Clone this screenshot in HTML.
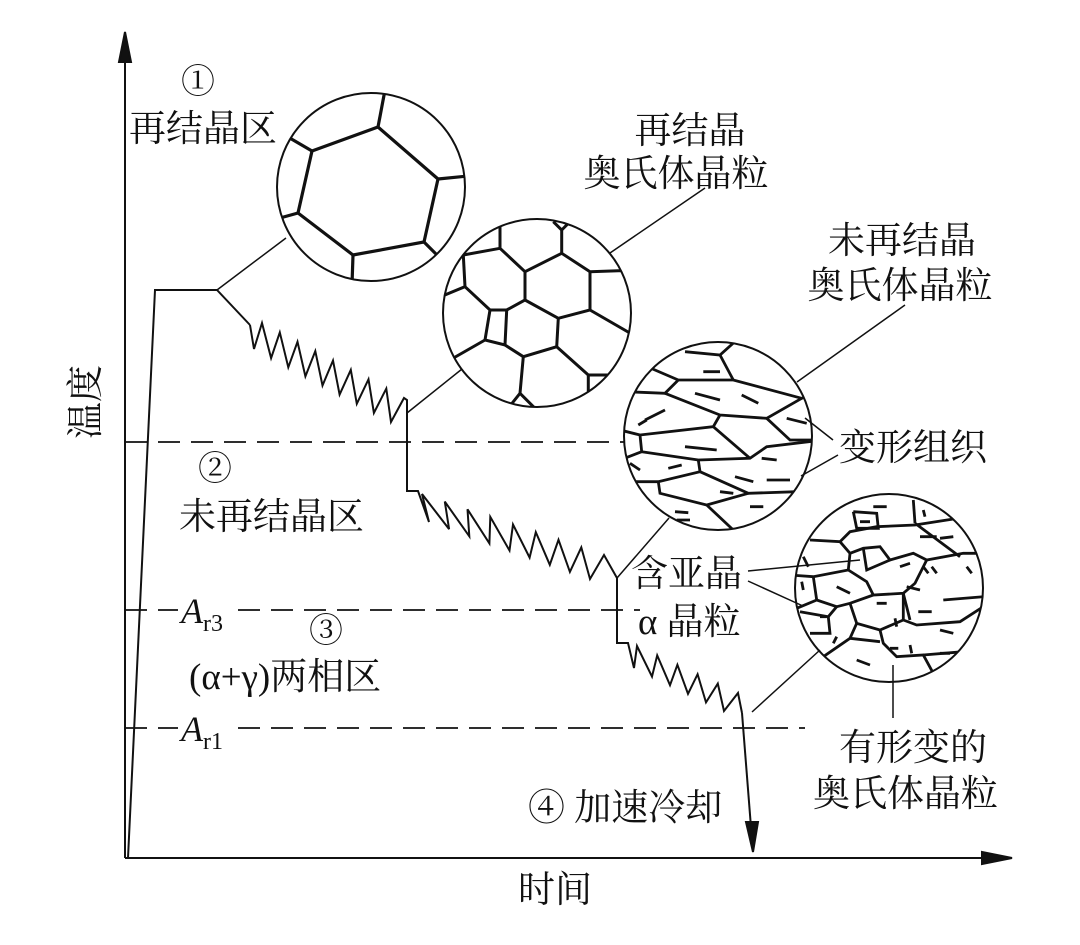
<!DOCTYPE html>
<html><head><meta charset="utf-8"><style>
html,body{margin:0;padding:0;background:#fff;}
svg{display:block;}
text{font-family:"Liberation Serif","Noto Serif CJK SC",serif;fill:#111;}
</style></head><body>
<svg id="s" width="1080" height="945" viewBox="0 0 1080 945" xmlns="http://www.w3.org/2000/svg">
<defs>
<clipPath id="c1"><circle cx="371" cy="187" r="94"/></clipPath>
<clipPath id="c2"><circle cx="537" cy="313" r="94"/></clipPath>
<clipPath id="c3"><circle cx="718" cy="436" r="94"/></clipPath>
<clipPath id="c4"><circle cx="889" cy="588" r="94"/></clipPath>
</defs>
<g stroke="#111" fill="none" stroke-width="2">
<line x1="125" y1="40" x2="125" y2="858"/>
<polygon points="125,32 119,62 131,62" fill="#111"/>
<line x1="125" y1="858" x2="1000" y2="858"/>
<polygon points="1012,858 982,852 982,864" fill="#111"/>
<g stroke-dasharray="22,11" stroke-width="1.8">
<line x1="125" y1="442" x2="624" y2="442"/>
<line x1="125" y1="610" x2="178" y2="610"/>
<line x1="238" y1="610" x2="640" y2="610"/>
<line x1="125" y1="728" x2="178" y2="728"/>
<line x1="238" y1="728" x2="805" y2="728"/>
</g>
<polyline points="128,858 155,290 217,290 250,325"/>
<line x1="217" y1="290" x2="286" y2="238" stroke-width="1.5"/>
<path id="zz" stroke-width="2"/>
<line x1="742" y1="713" x2="752" y2="840"/>
<polygon points="753,852 746,822 758,822" fill="#111"/>
<g stroke-width="1.5">
<line x1="407" y1="413" x2="462" y2="369"/>
<line x1="610" y1="253" x2="705" y2="188"/>
<line x1="797" y1="382" x2="905" y2="305"/>
<line x1="805" y1="418" x2="833" y2="440"/>
<line x1="801" y1="476" x2="838" y2="455"/>
<line x1="669" y1="518" x2="617" y2="578"/>
<line x1="748" y1="571" x2="860" y2="560"/>
<line x1="748" y1="581" x2="803" y2="606"/>
<line x1="820" y1="650" x2="752" y2="712"/>
<line x1="893" y1="665" x2="893" y2="718"/>
</g>
<circle cx="371" cy="187" r="94"/>
<g clip-path="url(#c1)" stroke-width="3.2">
<polygon points="312,151 378,127 438,179 424,242 353,255 298,213"/>
<line x1="312" y1="151" x2="288" y2="137"/>
<line x1="378" y1="127" x2="385" y2="90"/>
<line x1="438" y1="179" x2="468" y2="176"/>
<line x1="424" y1="242" x2="438" y2="256"/>
<line x1="353" y1="255" x2="352" y2="285"/>
<line x1="298" y1="213" x2="280" y2="218"/>
</g>
<circle cx="537" cy="313" r="94"/>
<g clip-path="url(#c2)" stroke-width="3" id="g2"></g>
<circle cx="718" cy="436" r="94"/>
<g clip-path="url(#c3)" stroke-width="2.8" id="g3"></g>
<circle cx="889" cy="588" r="94"/>
<g clip-path="url(#c4)" stroke-width="2.8" id="g4"></g>
</g>
<g font-size="37">
<text x="198" y="93" text-anchor="middle" font-size="34">①</text>
<text x="129" y="141">再结晶区</text>
<text x="690" y="143" text-anchor="middle">再结晶</text>
<text x="676" y="186" text-anchor="middle">奥氏体晶粒</text>
<text x="902" y="253" text-anchor="middle">未再结晶</text>
<text x="900" y="298" text-anchor="middle">奥氏体晶粒</text>
<text x="839" y="460">变形组织</text>
<text x="215" y="480" text-anchor="middle" font-size="34">②</text>
<text x="179" y="529">未再结晶区</text>
<text x="181" y="623" font-style="italic" font-size="36">A<tspan font-size="24" font-style="normal" dy="8">r3</tspan></text>
<text x="326" y="642" text-anchor="middle" font-size="34">③</text>
<text x="189" y="689">(α+γ)两相区</text>
<text x="181" y="741" font-style="italic" font-size="36">A<tspan font-size="24" font-style="normal" dy="8">r1</tspan></text>
<text x="631" y="586">含亚晶</text>
<text x="638" y="634">α 晶粒</text>
<text x="839" y="760">有形变的</text>
<text x="813" y="806">奥氏体晶粒</text>
<text x="528" y="820">④ 加速冷却</text>
<text x="555" y="902" text-anchor="middle">时间</text>
<text transform="translate(98,402) rotate(-90)" text-anchor="middle">温度</text>
</g>
</svg>
<script>
function zig(L0,L1,H0,H1,n){var p=[];for(var i=0;i<=n;i++){var t=i/n;p.push([L0[0]+(L1[0]-L0[0])*t,L0[1]+(L1[1]-L0[1])*t]);p.push([H0[0]+(H1[0]-H0[0])*t,H0[1]+(H1[1]-H0[1])*t]);}return p;}
var pts=[[250,325]];
pts=pts.concat(zig([254,349],[391,422],[262,323],[404,398],8));
pts.push([407,400],[407,491],[418,491]);
pts=pts.concat(zig([429,522],[590,579],[422,494],[604,555],8));
pts.push([617,578],[617,643],[628,643]);
pts=pts.concat(zig([634,668],[724,711],[637,646],[738,693],5));
pts.push([742,713]);
document.getElementById('zz').setAttribute('d','M'+pts.map(function(a){return a[0].toFixed(1)+','+a[1].toFixed(1)}).join(' L'));
var NS='http://www.w3.org/2000/svg';
function draw(id,ox,oy,lines){var g=document.getElementById(id);lines.forEach(function(l){var pl=document.createElementNS(NS,'polyline');var s=[];for(var i=0;i<l.length;i+=2)s.push((l[i]/3+ox).toFixed(1)+','+(l[i+1]/3+oy).toFixed(1));pl.setAttribute('points',s.join(' '));g.appendChild(pl);});}
draw('g2',270,80,[
[580,525,690,505,765,575,875,520,960,575,1045,572,1100,572],
[690,505,690,420],[875,520,875,450,850,425],[875,450,900,425],
[580,525,585,620,500,655],[585,620,660,690,710,690,765,660,765,575],
[765,660,865,715,960,690,960,575],[960,690,1090,765],
[660,690,645,780,705,795,710,690],[645,780,540,840],
[705,795,760,830,860,800,865,715],[860,800,955,885,1020,885],[955,885,955,960],
[760,830,750,940,710,990],[750,940,800,990]]);
draw('g3',610,340,[
[225,35,330,45,380,0],[330,45,370,120],
[100,75,205,120,370,120,575,175,640,150],[205,120,165,160,50,155],
[165,160,330,225,470,235,575,175],[330,225,310,260,90,285,30,270],
[90,285,95,335,30,360],[95,335,265,360,420,355,470,320,640,300],
[310,260,420,355],[265,360,270,395,145,425,40,425],
[270,395,415,460,560,455],[145,425,150,460,290,495,370,570],[290,495,415,460],
[470,235,540,300,620,300],
[280,95,330,95],[255,160,330,180],[395,165,445,190],[105,240,165,210],[85,255,110,240],[225,320,320,330],[530,235,590,250],[175,385,215,375],[375,410,430,425],[470,420,540,420],[330,455,370,460],[420,500,460,500],[195,515,235,518],[200,540,240,540],[455,355,500,360],[60,370,90,390]]);
draw('g4',610,340,[
[600,600,690,605,720,575,800,560,915,555,1045,535],
[690,605,720,640,760,625,810,620,840,660,910,640,950,660,1060,640,1110,640],
[720,640,715,690,610,710,540,705],
[715,690,770,725,790,765,880,760,915,730,950,660],
[610,710,620,780,560,805],[620,780,680,800,720,790,790,765],
[680,800,655,830,570,815],[720,790,740,850,810,870,880,840,880,760],
[880,840,920,855,1050,845,1120,800],[655,830,660,880,600,880],
[740,850,720,895,640,950],[810,870,820,910,860,950,940,945,970,1000],
[720,895,810,905],[940,945,1060,935],[910,480,915,550],[915,550,1050,650],
[1000,780,1120,770],[760,625,770,690,840,660],[880,760,900,840],
[730,515,800,520,805,565,740,565,730,515],
[750,545,780,545],[790,500,830,500],[930,590,980,590],[990,595,1030,590],[870,680,900,670],[940,680,955,700],[965,680,980,700],[580,650,595,680],[575,725,580,750],[680,740,720,760],[890,740,930,750],[800,790,830,790],[925,815,965,815],[630,830,650,830],[855,835,860,860],[990,870,1030,880],[840,925,865,925],[900,915,905,940],[740,960,780,975],[990,940,1020,940],[1070,680,1085,700],[680,890,670,910],[940,510,945,530]]);
</script>
</body></html>
